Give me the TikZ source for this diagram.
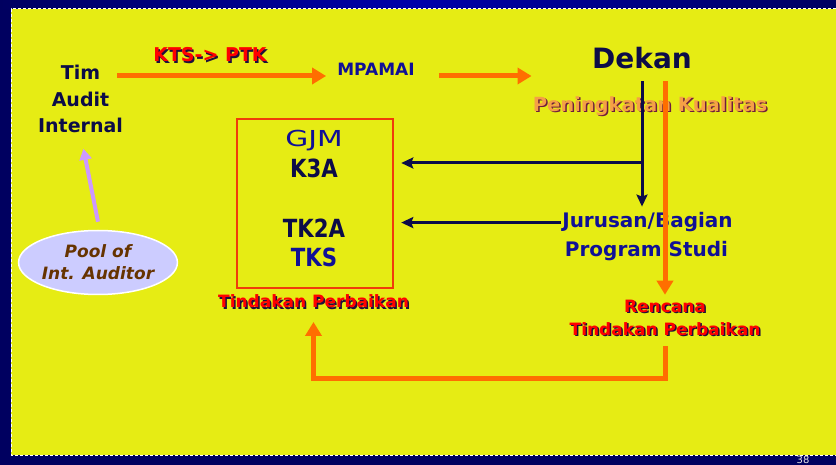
\documentclass[tikz,border=0pt]{standalone}
\usepackage{fontspec}
\setmainfont{DejaVu Sans}
\newfontfamily\narrowfont[FakeStretch=0.85]{DejaVu Sans}
\newfontfamily\widefont[FakeStretch=1.35]{DejaVu Sans}
\usetikzlibrary{arrows.meta,positioning,shapes.geometric}
\definecolor{slidebg}{RGB}{0,0,96}
\definecolor{slidehi}{RGB}{0,0,170}
\definecolor{slideyellow}{RGB}{230,236,20}
\definecolor{darknavy}{RGB}{12,12,72}
\definecolor{textblue}{RGB}{16,16,150}
\definecolor{flowora}{RGB}{255,110,0}
\definecolor{boxred}{RGB}{240,60,10}
\definecolor{lavfill}{RGB}{204,204,255}
\definecolor{lavline}{RGB}{204,153,255}
\definecolor{qualora}{RGB}{245,160,70}
\definecolor{qualshadow}{RGB}{110,30,60}
\definecolor{shadowdark}{RGB}{30,15,60}
\definecolor{poolbrown}{RGB}{102,51,0}
\newcommand{\shd}[3][shadowdark]{\rlap{\raisebox{-1.5pt}{\kern1.5pt\textcolor{#1}{#3}}}\textcolor{#2}{#3}}
\newcommand{\fs}[2]{\fontsize{#1}{#2}\selectfont}

\begin{document}
\begin{tikzpicture}[x=1pt,y=-1pt,
        lbl/.style={inner sep=1pt,align=center},
        orangeflow/.style={-{Triangle[length=14pt,width=16pt]},line width=5pt,flowora},
        navyflow/.style={-{Stealth[length=12pt,width=11pt,inset=2pt]},line width=3pt,darknavy},
        lavflow/.style={-{Triangle[length=11pt,width=12pt]},line width=4pt,lavline}]
    \useasboundingbox (0,0) rectangle (836,465);
    \fill[slidebg] (0,0) rectangle (836,465);
    \shade[left color=slidebg,right color=slidebg,middle color=slidehi] (0,0) rectangle (836,9);
    \fill[slideyellow] (11,9) rectangle (836,455);
    \draw[white,line width=1pt,dash pattern=on 3pt off 2pt] (836,9) -- (11,9) -- (11,455) -- (836,455);

    \node[lbl,darknavy,font=\fs{19}{26.5}\bfseries] (tim) at (80.5,99) {Tim\\Audit\\Internal};
    \node[lbl,anchor=base,font=\fs{19}{20}\bfseries] (kts) at (210,62) {\shd{red}{KTS-> PTK}};
    \node[lbl,anchor=base,textblue,font=\fs{17}{20}\bfseries] (mpamai) at (376,76) {MPAMAI};
    \node[lbl,anchor=base,darknavy,font=\fs{28}{30}\bfseries] (dekan) at (642,68.5) {Dekan};
    \node[lbl,anchor=base,font=\fs{19.5}{20}\bfseries] (quality) at (650,111.5)
        {\shd[qualshadow]{qualora}{Peningkatan Kualitas}};

    \node[draw=boxred,line width=2.5pt,minimum width=156pt,minimum height=169pt,inner sep=0pt]
        (gjmbox) at (315,203.5) {};
    \node[lbl,anchor=base,textblue,font=\fs{22}{24}\widefont] (gjm) at (314,146.5) {GJM};
    \node[lbl,anchor=base,darknavy,font=\fs{25}{26}\narrowfont\bfseries] (k3a) at (314,178) {K3A};
    \node[lbl,anchor=base,darknavy,font=\fs{25}{26}\narrowfont\bfseries] (tk2a) at (314,238) {TK2A};
    \node[lbl,anchor=base,textblue,font=\fs{25}{26}\narrowfont\bfseries] (tks) at (314,266.5) {TKS};
    \node[lbl,anchor=base,font=\fs{17}{20}\bfseries] (fixnow) at (313.5,308) {\shd{red}{Tindakan Perbaikan}};

    \node[lbl,anchor=base,textblue,font=\fs{20}{22}\bfseries] (jur) at (647.5,228) {Jurusan/Bagian};
    \node[lbl,anchor=base,textblue,font=\fs{20}{22}\bfseries] (prog) at (646.5,256.5) {Program Studi};
    \node[lbl,font=\fs{17}{23}\bfseries] (plan) at (665,318.5)
        {\shd{red}{Rencana}\\\shd{red}{Tindakan Perbaikan}};

    \node[ellipse,draw=white,line width=1.5pt,fill=lavfill,minimum width=147pt,minimum height=64pt,
          inner sep=0pt,align=center,text=poolbrown,font=\fs{17}{22}\bfseries\itshape] (pool) at (98,262.5)
        {Pool of\\Int. Auditor};
    \node[lbl,anchor=base,white!80!gray,font=\fs{10}{12}] (pageno) at (803,463.5) {38};

    \coordinate (split) at (642,163);

    \draw[orangeflow,shorten >=10pt] ([xshift=-7pt]tim.east |- mpamai.base) -- (mpamai.west |- mpamai.base);
    \draw[orangeflow,shorten <=23pt] (mpamai.east |- mpamai.base) -- (quality.west |- mpamai.base);
    \draw[navyflow,shorten <=11pt,shorten >=5pt] (dekan.south) -- (dekan.south |- jur.north);
    \draw[navyflow,shorten >=7pt] (split) -- (split -| gjmbox.east);
    \draw[navyflow,shorten >=7pt] (jur.west) -- (jur.west -| gjmbox.east);
    \draw[orangeflow,shorten <=11pt,shorten >=4pt] (plan.north |- dekan.south) -- (plan.north);
    \draw[orangeflow,shorten <=8pt,shorten >=11pt] (plan.south) -- ++(0,40) -| (fixnow.south);
    \draw[lavflow,shorten >=15pt] ([yshift=8pt]pool.north) -- (tim.south);
\end{tikzpicture}
\end{document}
